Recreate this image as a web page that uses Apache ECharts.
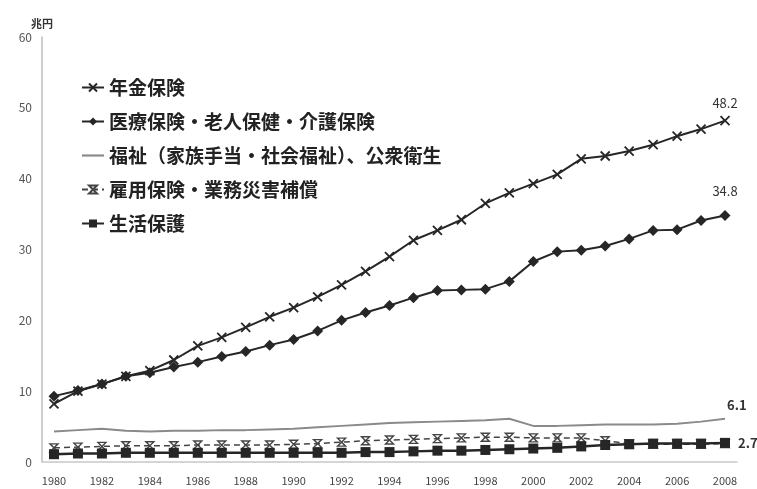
<!DOCTYPE html>
<html>
<head>
<meta charset="utf-8">
<script src="https://cdn.jsdelivr.net/npm/echarts@6/dist/echarts.min.js"></script>
<style>
  html, body { margin: 0; padding: 0; background: #fff; }
  #chart { width: 757px; height: 489px; }
</style>
</head>
<body>
<div id="chart"></div>
<script>
const years = []
for (let y = 1980; y <= 2008; y++) years.push(String(y))

const seriesNames = [
  '年金保険',
  '医療保険・老人保健・介護保険',
  '福祉（家族手当・社会福祉）、公衆衛生',
  '雇用保険・業務災害補償',
  '生活保護'
]

const pension = [8.2, 10.0, 11.0, 12.1, 12.9, 14.4, 16.4, 17.6, 19.0, 20.5, 21.8, 23.3, 25.0, 26.9, 29.0, 31.3, 32.7, 34.2, 36.5, 38.0, 39.3, 40.6, 42.8, 43.2, 43.9, 44.8, 46.0, 47.0, 48.2]
const medical = [9.3, 10.1, 11.0, 12.1, 12.6, 13.4, 14.1, 14.9, 15.6, 16.5, 17.3, 18.5, 20.0, 21.1, 22.1, 23.2, 24.2, 24.3, 24.4, 25.5, 28.3, 29.7, 29.9, 30.5, 31.5, 32.7, 32.8, 34.1, 34.8]
const welfare = [4.3, 4.5, 4.7, 4.4, 4.3, 4.4, 4.4, 4.5, 4.5, 4.6, 4.7, 4.9, 5.1, 5.3, 5.5, 5.6, 5.7, 5.8, 5.9, 6.1, 5.1, 5.1, 5.2, 5.3, 5.3, 5.3, 5.4, 5.7, 6.1]
const employment = [2.0, 2.1, 2.2, 2.3, 2.3, 2.3, 2.4, 2.4, 2.4, 2.4, 2.5, 2.6, 2.8, 3.0, 3.1, 3.2, 3.3, 3.4, 3.5, 3.5, 3.4, 3.4, 3.4, 3.0, 2.6, 2.5, 2.5, 2.5, 2.6]
const livelihood = [1.1, 1.2, 1.2, 1.3, 1.3, 1.3, 1.3, 1.3, 1.3, 1.3, 1.3, 1.3, 1.3, 1.4, 1.4, 1.5, 1.6, 1.6, 1.7, 1.8, 1.9, 2.0, 2.2, 2.4, 2.5, 2.6, 2.6, 2.6, 2.7]

const font = '"Noto Sans CJK JP", "Noto Sans", sans-serif'
const ink = '#262626'

// label only the last point of a series
function withEndLabel(values, label) {
  return values.map((v, i) => i === values.length - 1
    ? { value: v, label: Object.assign({ show: true, color: '#333', fontFamily: font, fontSize: 13 }, label) }
    : v)
}

const crossPath = 'path://M0,0L10,10M10,0L0,10'
const hourglassPath = 'path://M0,0L10,0L0,10L10,10Z'
// plain line icon for the welfare series (no marker)
const barIcon = 'path://M0,0L30,0L30,3L0,3Z'

const legendData = seriesNames.map((n, i) => i === 2 ? { name: n, icon: barIcon } : n)

const chart = echarts.init(document.getElementById('chart'))
chart.setOption({
  animation: false,
  backgroundColor: '#fff',
  grid: { left: 42, right: 20, top: 37, bottom: 27, containLabel: false },
  legend: {
    orient: 'vertical',
    left: 76,
    top: 73,
    itemWidth: 22,
    itemHeight: 10,
    itemGap: 15,
    symbolKeepAspect: true,
    textStyle: { fontFamily: font, fontSize: 19, color: '#222', fontWeight: 'bold' },
    data: legendData
  },
  xAxis: {
    type: 'category',
    data: years,
    boundaryGap: true,
    axisLine: { show: true, lineStyle: { color: '#c8c8c8', width: 1.5 } },
    axisTick: { show: false },
    axisLabel: { interval: 1, color: '#444', fontFamily: font, fontSize: 11, margin: 13 }
  },
  yAxis: {
    type: 'value',
    min: 0,
    max: 60,
    interval: 10,
    name: '兆円',
    nameGap: 8,
    nameTextStyle: { color: '#333', fontFamily: font, fontSize: 11, fontWeight: 'bold', align: 'center' },
    axisLine: { show: true, lineStyle: { color: '#bdbdbd', width: 1.5 } },
    axisTick: { show: false },
    splitLine: { show: false },
    axisLabel: { color: '#555', fontFamily: font, fontSize: 12, margin: 10 }
  },
  series: [
    {
      name: seriesNames[0],
      type: 'line',
      data: withEndLabel(pension, { position: 'top', distance: 6 }),
      symbol: crossPath,
      symbolSize: 9,
      lineStyle: { color: ink, width: 2 },
      itemStyle: { color: 'transparent', borderColor: ink, borderWidth: 1.8 }
    },
    {
      name: seriesNames[1],
      type: 'line',
      data: withEndLabel(medical, { position: 'top', distance: 12 }),
      symbol: 'diamond',
      symbolSize: 11,
      lineStyle: { color: ink, width: 2 },
      itemStyle: { color: ink }
    },
    {
      name: seriesNames[2],
      type: 'line',
      data: welfare,
      symbol: 'none',
      lineStyle: { color: '#8a8a8a', width: 2 },
      itemStyle: { color: '#8a8a8a' },
      endLabel: {
        show: true,
        formatter: '{c}',
        color: '#333',
        fontFamily: font,
        fontSize: 13,
        fontWeight: 'bold',
        offset: [-6, -14]
      }
    },
    {
      name: seriesNames[3],
      type: 'line',
      data: employment,
      symbol: hourglassPath,
      symbolSize: 8,
      lineStyle: { color: '#444', width: 1.5, type: [6, 4] },
      itemStyle: { color: 'transparent', borderColor: '#444', borderWidth: 1.4 }
    },
    {
      name: seriesNames[4],
      type: 'line',
      data: withEndLabel(livelihood, { position: 'right', distance: 8, fontWeight: 'bold' }),
      symbol: 'rect',
      symbolSize: 10,
      lineStyle: { color: ink, width: 2.5 },
      itemStyle: { color: ink }
    }
  ]
})
</script>
</body>
</html>
